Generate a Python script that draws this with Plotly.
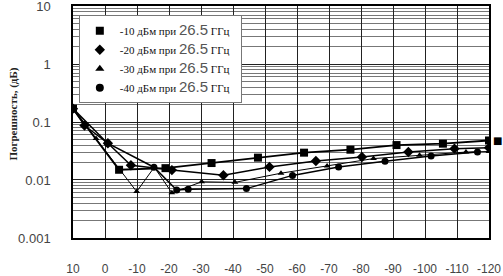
import plotly.graph_objects as go

# ---- data ----
x_sq = [10, -4.4, -18.9, -33.3, -47.8, -62.2, -76.7, -91.1, -105.6, -120]
y_sq = [0.17, 0.015, 0.016, 0.0196, 0.0243, 0.0296, 0.0333, 0.040, 0.0423, 0.048]

x_di = [10, 6.4, -0.9, -8.1, -20.9, -37, -51.4, -65.9, -80.3, -94.8, -109.2, -120]
y_di = [0.17, 0.087, 0.043, 0.0179, 0.0148, 0.0121, 0.0168, 0.0212, 0.0249, 0.0303, 0.0347, 0.036]

x_tr = [10, 2.8, -9.9, -15.4, -20.9, -30.2, -40.6, -55, -69.4, -83.9, -98.3, -112.8, -120]
y_tr = [0.17, 0.052, 0.0063, 0.0166, 0.006, 0.0093, 0.0091, 0.0131, 0.0175, 0.0234, 0.0266, 0.0303, 0.031]

x_ci = [10, -0.8, -15.3, -22.4, -26, -44.2, -58.6, -73, -87.5, -101.9, -116.4]
y_ci = [0.17, 0.043, 0.0166, 0.0067, 0.0069, 0.0071, 0.012, 0.0168, 0.021, 0.0258, 0.0303]

names = [
    "-10 дБм при",
    "-20 дБм при",
    "-30 дБм при",
    "-40 дБм при",
]
freq_label = "26.5"
unit_label = "ГГц"

x_ticks = [10, 0, -10, -20, -30, -40, -50, -60, -70, -80, -90, -100, -110, -120]
y_ticks = [10, 1, 0.1, 0.01, 0.001]
y_ticktext = ["10", "1", "0.1", "0.01", "0.001"]
y_title = "Погрешность, (дБ)"

series = [
    (x_sq, y_sq, "square", 8, 1.8),
    (x_di, y_di, "diamond", 8, 1.5),
    (x_tr, y_tr, "triangle-up", 6, 1.0),
    (x_ci, y_ci, "circle", 7, 1.5),
]

fig = go.Figure()
for (xs, ys, sym, sz, lw) in series:
    fig.add_trace(go.Scatter(
        x=xs, y=ys, mode="lines+markers", showlegend=False,
        line=dict(color="black", width=lw),
        marker=dict(symbol=sym, size=sz, color="black"),
    ))

for (xs, ys, sym, sz, lw), nm in zip(series, names):
    label = (nm + " <span style='font-family:Liberation Sans;font-size:15px;color:#555'>"
             + freq_label + "</span> " + unit_label + "  ")
    fig.add_trace(go.Scatter(
        x=[None], y=[None], mode="markers", name=label,
        marker=dict(symbol=sym, size=8, color="black"),
    ))

minor_vals = [k * 10 ** e for e in range(-3, 1) for k in range(2, 10)]

fig.update_layout(
    width=503, height=276,
    margin=dict(l=73, r=14, t=6, b=38, autoexpand=False),
    paper_bgcolor="white", plot_bgcolor="white",
    font=dict(family="Liberation Sans", size=13, color="#444"),
    legend=dict(
        x=0.014, y=0.96, xanchor="left", yanchor="top",
        bgcolor="white", bordercolor="#777", borderwidth=1,
        font=dict(family="Liberation Serif", size=11, color="#111"),
        itemwidth=30, tracegroupgap=0,
    ),
    xaxis=dict(
        range=[10, -120], tickvals=x_ticks, ticktext=[str(v) for v in x_ticks],
        showgrid=True, gridcolor="#222", gridwidth=1, automargin=False,
        showline=True, mirror=True, linecolor="black", linewidth=1.5,
        ticks="", zeroline=False, ticklabelstandoff=19,
        tickfont=dict(family="Liberation Sans", size=12, color="#444"),
    ),
    yaxis=dict(
        type="log", range=[-3.0005, 1.0005], tickvals=y_ticks, ticktext=y_ticktext,
        showgrid=True, gridcolor="#222", gridwidth=1, automargin=False,
        ticklabeloverflow="allow",
        minor=dict(tickvals=minor_vals, showgrid=True, gridcolor="#777", gridwidth=1, ticks=""),
        showline=True, mirror=True, linecolor="black", linewidth=1.5,
        ticks="", zeroline=False, ticklabelstandoff=18,
        tickfont=dict(family="Liberation Sans", size=13, color="#444"),
    ),
    annotations=[
        dict(text="<b>" + y_title + "</b>", textangle=-90,
             xref="paper", yref="paper", x=-0.142, y=0.536,
             xanchor="center", yanchor="middle", showarrow=False,
             font=dict(family="Liberation Serif", size=11, color="#222")),
        dict(text="■", xref="paper", yref="paper", x=1.0, y=0.42,
             xanchor="left", yanchor="middle", xshift=2, showarrow=False,
             font=dict(family="DejaVu Sans", size=10, color="black")),
    ],
)

fig.write_html("out.html")
